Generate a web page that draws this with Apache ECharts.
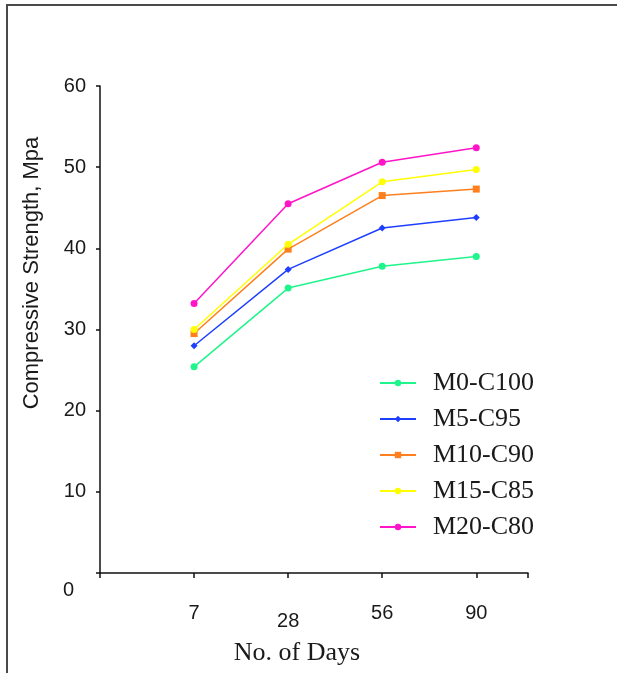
<!DOCTYPE html>
<html>
<head>
<meta charset="utf-8">
<script src="https://cdn.jsdelivr.net/npm/echarts@6/dist/echarts.min.js"></script>
<style>
  html, body { margin: 0; padding: 0; background: #fff; }
  #chart { width: 617px; height: 673px; }
</style>
</head>
<body>
<div id="chart"></div>
<script>
var days = ['7', '28', '56', '90'];
var dayPos = [1, 2, 3, 4];
var seriesNames = ['M0-C100', 'M5-C95', 'M10-C90', 'M15-C85', 'M20-C80'];
var m0c100 = [25.4, 35.1, 37.8, 39.0];
var m5c95 = [28.0, 37.4, 42.5, 43.8];
var m10c90 = [29.5, 39.9, 46.5, 47.3];
var m15c85 = [30.0, 40.5, 48.2, 49.7];
var m20c80 = [33.2, 45.5, 50.6, 52.4];

var colors = ['#1ef58a', '#1f3fff', '#ff7f1e', '#ffff00', '#ff14c8'];
var symbols = ['circle', 'diamond', 'rect', 'circle', 'circle'];
var values = [m0c100, m5c95, m10c90, m15c85, m20c80];

var myChart = echarts.init(document.getElementById('chart'));

function pairs(arr) {
  return arr.map(function (v, i) { return [dayPos[i], v]; });
}

var series = seriesNames.map(function (name, i) {
  return {
    name: name,
    type: 'line',
    data: pairs(values[i]),
    symbol: symbols[i],
    symbolSize: 7,
    showSymbol: true,
    lineStyle: { width: 1.5, color: colors[i] },
    itemStyle: { color: colors[i] },
    z: 2 + i
  };
});

var option = {
  animation: false,
  backgroundColor: '#fff',
  color: colors,
  grid: { left: 100, top: 86, right: 89, bottom: 100, containLabel: false },
  graphic: [
    {
      type: 'rect',
      shape: { x: 7, y: 5, width: 700, height: 700 },
      style: { fill: 'none', stroke: '#4a4a4a', lineWidth: 2 },
      silent: true
    },
    {
      type: 'text',
      x: 32, y: 273, rotation: Math.PI / 2,
      style: {
        text: 'Compressive Strength, Mpa',
        font: '22px "Liberation Sans", Arial, sans-serif',
        fill: '#1a1a1a',
        align: 'center',
        verticalAlign: 'middle'
      }
    },
    {
      type: 'text',
      x: 297, y: 653,
      style: {
        text: 'No. of Days',
        font: '26px "Liberation Serif", "Times New Roman", serif',
        fill: '#1a1a1a',
        align: 'center',
        verticalAlign: 'middle'
      }
    }
  ],
  legend: {
    orient: 'vertical',
    left: 379,
    top: 370,
    padding: 0,
    itemWidth: 36,
    itemHeight: 8,
    itemGap: 10,
    data: seriesNames,
    textStyle: {
      fontFamily: '"Liberation Serif", "Times New Roman", serif',
      fontSize: 26,
      lineHeight: 26,
      color: '#1a1a1a',
      padding: [0, 0, 0, 12]
    }
  },
  xAxis: {
    type: 'value',
    min: 0,
    max: 4.55,
    splitLine: { show: false },
    axisLine: { show: true, onZero: false, lineStyle: { color: '#111', width: 1.5 } },
    axisTick: {
      show: true,
      inside: false,
      length: 5,
      customValues: [0, 1, 2, 3, 4, 4.55],
      lineStyle: { color: '#111', width: 1.5 }
    },
    axisLabel: {
      show: true,
      margin: 30,
      customValues: dayPos,
      color: '#1a1a1a',
      fontFamily: '"Liberation Sans", Arial, sans-serif',
      fontSize: 20,
      formatter: function (v) {
        var idx = dayPos.indexOf(v);
        var txt = idx >= 0 ? days[idx] : '';
        return idx === 1 ? '{low|' + txt + '}' : txt;
      },
      rich: {
        low: {
          fontFamily: '"Liberation Sans", Arial, sans-serif',
          fontSize: 20,
          color: '#1a1a1a',
          padding: [8, 0, 0, 0]
        }
      }
    }
  },
  yAxis: {
    type: 'value',
    min: 0,
    max: 60,
    interval: 10,
    splitLine: { show: false },
    axisLine: { show: true, onZero: false, lineStyle: { color: '#111', width: 1.5 } },
    axisTick: { show: true, inside: false, length: 4, lineStyle: { color: '#111', width: 1.5 } },
    axisLabel: {
      margin: 14,
      color: '#1a1a1a',
      fontFamily: '"Liberation Sans", Arial, sans-serif',
      fontSize: 20,
      formatter: function (v) {
        return v === 0 ? '{zero|0}' : String(v);
      },
      rich: {
        zero: {
          fontFamily: '"Liberation Sans", Arial, sans-serif',
          fontSize: 20,
          color: '#1a1a1a',
          padding: [34, 12, 0, 0]
        }
      }
    }
  },
  series: series
};

option && myChart.setOption(option);
</script>
</body>
</html>
